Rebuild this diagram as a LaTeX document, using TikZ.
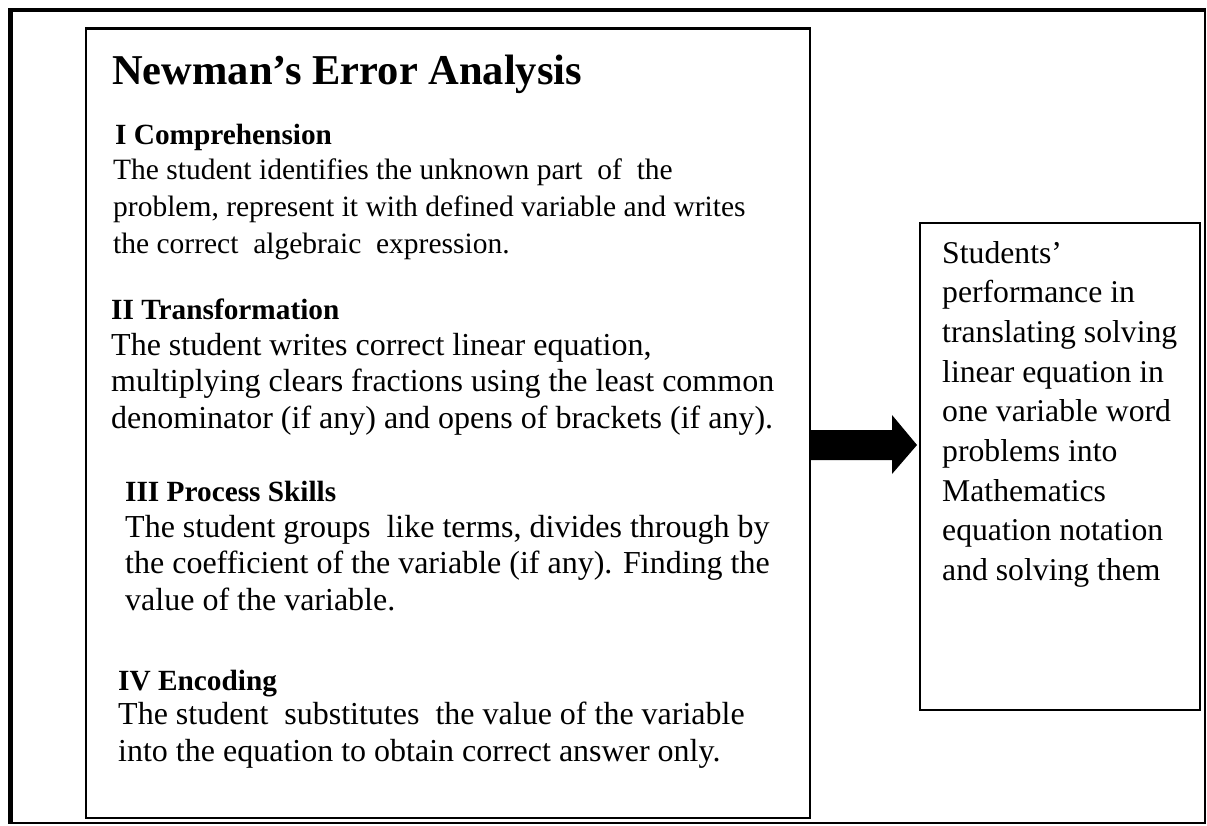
\documentclass[tikz,border=0pt]{standalone}
\usepackage{fontspec}
\setmainfont{Liberation Serif}
\usetikzlibrary{calc}
\tikzset{
  boxframe/.style={draw=black, line width=2.5pt, inner sep=0pt, outer sep=0pt, anchor=north west},
  ttl/.style={anchor=base west, inner sep=0pt, font=\fontsize{42.5}{50}\selectfont\bfseries},
  head/.style={anchor=base west, inner sep=0pt, font=\fontsize{29.3}{36}\selectfont\bfseries},
  bodyA/.style={anchor=base west, inner sep=0pt, font=\fontsize{29.5}{36}\selectfont},
  bodyB/.style={anchor=base west, inner sep=0pt, font=\fontsize{32}{38}\selectfont},
  bodyR/.style={anchor=base west, inner sep=0pt, font=\fontsize{31.7}{38}\selectfont},
}
\begin{document}
\begin{tikzpicture}[x=1pt,y=-1pt]
\useasboundingbox (0,0) rectangle (1207,825);
% outer frame
\draw[line width=4pt] (8,10) -- (1206,10);
\draw[line width=4.5pt] (10.5,8) -- (10.5,824);
\draw[line width=2pt] (1204.5,10) -- (1204.5,824);
\draw[line width=2pt] (9,823) -- (1205.5,823);
% boxes
\node[boxframe, minimum width=724pt, minimum height=789.5pt] (nea) at (86,28.5) {};
\node[boxframe, minimum width=280pt, minimum height=487pt] (perf) at (920,223) {};
% arrow
\coordinate (ay) at (0,445);
\fill (nea.east |- ay) ++(0,-15) -- ++(82,0) -- ++(0,-15) -- ++(25,30) -- ++(-25,29) -- ++(0,-14) -- ++(-82,0) -- cycle;
% left box texts
\node[ttl] (t0) at (112,84) {Newman’s Error Analysis};
\node[head] (h1) at (115,144) {I Comprehension};
\node[bodyA] (a1) at (113,179) {The student identifies the unknown part\ \ of\ \ the};
\node[bodyA] (a2) at (113,216) {problem, represent it with defined variable and writes};
\node[bodyA] (a3) at (113,253) {the correct\ \ algebraic\ \ expression.};
\node[head] (h2) at (111,319) {II Transformation};
\node[bodyB] (b1) at (111,355) {The student writes correct linear equation,};
\node[bodyB] (b2) at (111,391.5) {multiplying clears fractions using the least common};
\node[bodyB] (b3) at (111,428) {denominator (if any) and opens of brackets (if any).};
\node[head] (h3) at (125,501) {III Process Skills};
\node[bodyB] (c1) at (125,537) {The student groups\ \ like terms, divides through by};
\node[bodyB] (c2) at (125,573.5) {the coefficient of the variable (if any). Finding the};
\node[bodyB] (c3) at (125,610) {value of the variable.};
\node[head] (h4) at (118,690) {IV Encoding};
\node[bodyB] (d1) at (118,724) {The student\ \ substitutes\ \ the value of the variable};
\node[bodyB] (d2) at (118,761) {into the equation to obtain correct answer only.};
% right box texts
\node[bodyR] (r1) at (942,263) {Students’};
\node[bodyR] (r2) at (942,302.7) {performance in};
\node[bodyR] (r3) at (942,342.4) {translating solving};
\node[bodyR] (r4) at (942,382.1) {linear equation in};
\node[bodyR] (r5) at (942,421.8) {one variable word};
\node[bodyR] (r6) at (942,461.5) {problems into};
\node[bodyR] (r7) at (942,501.2) {Mathematics};
\node[bodyR] (r8) at (942,540.9) {equation notation};
\node[bodyR] (r9) at (942,580.6) {and solving them};
\end{tikzpicture}
\end{document}
